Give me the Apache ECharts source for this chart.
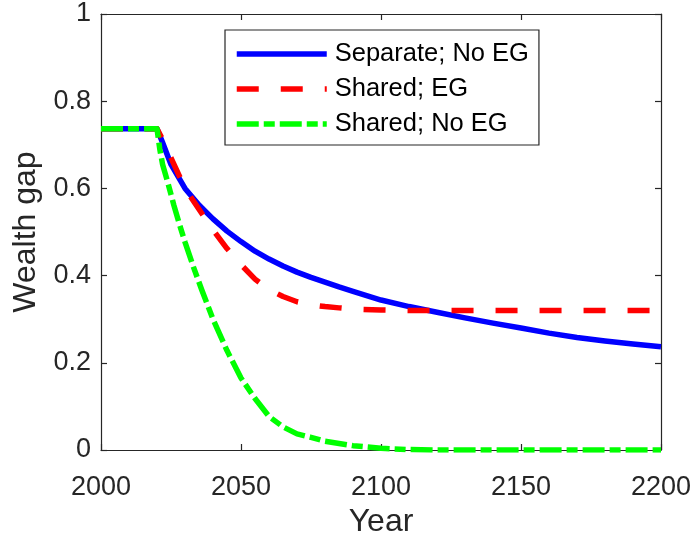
<!DOCTYPE html>
<html>
<head>
<meta charset="utf-8">
<script src="https://cdn.jsdelivr.net/npm/echarts@6/dist/echarts.min.js"></script>
<style>
  html, body { margin: 0; padding: 0; background: #ffffff; }
  #chart { width: 692px; height: 537px; }
</style>
</head>
<body>
<div id="chart"></div>
<script>
// Wealth gap trajectories under three regimes
const seriesNames = ['Separate; No EG', 'Shared; EG', 'Shared; No EG'];

const separateYears = [2000, 2020, 2022, 2025, 2030, 2035, 2040, 2045, 2050, 2055, 2060, 2065, 2070, 2075, 2080, 2085, 2090, 2100, 2110, 2120, 2130, 2140, 2150, 2160, 2170, 2180, 2190, 2200];
const separateNoEG  = [0.737, 0.737, 0.705, 0.655, 0.600, 0.562, 0.530, 0.502, 0.478, 0.456, 0.438, 0.422, 0.408, 0.396, 0.385, 0.374, 0.364, 0.344, 0.329, 0.316, 0.303, 0.291, 0.280, 0.268, 0.258, 0.250, 0.243, 0.237];

const sharedEGYears = [2000, 2020, 2022, 2025, 2030, 2035, 2040, 2045, 2050, 2055, 2060, 2065, 2070, 2075, 2080, 2085, 2090, 2100, 2110, 2200];
const sharedEG      = [0.737, 0.737, 0.712, 0.670, 0.600, 0.552, 0.505, 0.462, 0.425, 0.392, 0.368, 0.352, 0.340, 0.333, 0.329, 0.326, 0.323, 0.321, 0.320, 0.320];

const sharedNoEGYears = [2000, 2020, 2021, 2022, 2024, 2026, 2028, 2030, 2033, 2036, 2040, 2045, 2050, 2055, 2060, 2065, 2070, 2075, 2080, 2090, 2100, 2110, 2120, 2200];
const sharedNoEG      = [0.737, 0.737, 0.690, 0.655, 0.610, 0.562, 0.518, 0.477, 0.420, 0.367, 0.300, 0.228, 0.165, 0.118, 0.077, 0.053, 0.037, 0.029, 0.020, 0.010, 0.004, 0.001, 0.000, 0.000];

const xTickLabels = ['2000', '2050', '2100', '2150', '2200'];
const yTickLabels = ['0', '0.2', '0.4', '0.6', '0.8', '1'];

const ink = '#262626';
const font = 'Liberation Sans, Arial, Helvetica, sans-serif';

function pairs(xs, ys) { return xs.map((x, i) => [x, ys[i]]); }

const axisLineStyle = { color: ink, width: 1.2 };

const chart = echarts.init(document.getElementById('chart'), null, { renderer: 'canvas' });

chart.setOption({
  animation: false,
  backgroundColor: '#ffffff',
  grid: { left: 101, right: 31, top: 14, bottom: 87, containLabel: false, outerBoundsMode: 'none' },
  legend: {
    orient: 'vertical',
    left: 225,
    top: 30,
    padding: [11, 10, 8, 9],
    itemWidth: 90,
    itemHeight: 6,
    itemGap: 9,
    backgroundColor: '#ffffff',
    borderColor: ink,
    borderWidth: 1.2,
    borderRadius: 0,
    data: seriesNames,
    lineStyle: { width: 5.5, cap: 'butt' },
    itemStyle: { opacity: 0 },
    textStyle: { fontFamily: font, fontSize: 25.5, color: '#000000', padding: [0, 0, 0, 3] }
  },
  xAxis: [
    {
      type: 'value', min: 2000, max: 2200, interval: 50, position: 'bottom',
      name: 'Year', nameLocation: 'middle', nameGap: 55,
      nameTextStyle: { fontFamily: font, fontSize: 32, color: ink },
      axisLine: { show: true, onZero: false, lineStyle: axisLineStyle },
      axisTick: { show: true, inside: true, length: 6, lineStyle: axisLineStyle },
      axisLabel: {
        fontFamily: font, fontSize: 27, color: ink, margin: 24,
        formatter: v => xTickLabels[Math.round((v - 2000) / 50)]
      },
      splitLine: { show: false }
    },
    {
      type: 'value', min: 2000, max: 2200, interval: 50, position: 'top',
      axisLine: { show: true, onZero: false, lineStyle: axisLineStyle },
      axisTick: { show: true, inside: true, length: 6, lineStyle: axisLineStyle },
      axisLabel: { show: false },
      splitLine: { show: false }
    }
  ],
  yAxis: [
    {
      type: 'value', min: 0, max: 1, interval: 0.2, position: 'left',
      name: 'Wealth gap', nameLocation: 'middle', nameGap: 57, nameRotate: 90,
      nameTextStyle: { fontFamily: font, fontSize: 32, color: ink },
      axisLine: { show: true, onZero: false, lineStyle: axisLineStyle },
      axisTick: { show: true, inside: true, length: 6, lineStyle: axisLineStyle },
      axisLabel: {
        fontFamily: font, fontSize: 27, color: ink, margin: 10,
        formatter: v => yTickLabels[Math.round(v / 0.2)]
      },
      splitLine: { show: false }
    },
    {
      type: 'value', min: 0, max: 1, interval: 0.2, position: 'right',
      axisLine: { show: true, onZero: false, lineStyle: axisLineStyle },
      axisTick: { show: true, inside: true, length: 6, lineStyle: axisLineStyle },
      axisLabel: { show: false },
      splitLine: { show: false }
    }
  ],
  series: [
    {
      name: seriesNames[0], type: 'line', symbol: 'none', z: 3,
      data: pairs(separateYears, separateNoEG),
      lineStyle: { color: '#0000ff', width: 5.5, type: 'solid', cap: 'butt', join: 'round' },
      itemStyle: { color: '#0000ff' }
    },
    {
      name: seriesNames[1], type: 'line', symbol: 'none', z: 4,
      data: pairs(sharedEGYears, sharedEG),
      lineStyle: { color: '#ff0000', width: 5.5, type: [22, 22], cap: 'butt', join: 'round' },
      itemStyle: { color: '#ff0000' }
    },
    {
      name: seriesNames[2], type: 'line', symbol: 'none', z: 5,
      data: pairs(sharedNoEGYears, sharedNoEG),
      lineStyle: { color: '#00ff00', width: 5.5, type: [22, 5, 11, 5], cap: 'butt', join: 'round' },
      itemStyle: { color: '#00ff00' }
    }
  ]
});
</script>
</body>
</html>
